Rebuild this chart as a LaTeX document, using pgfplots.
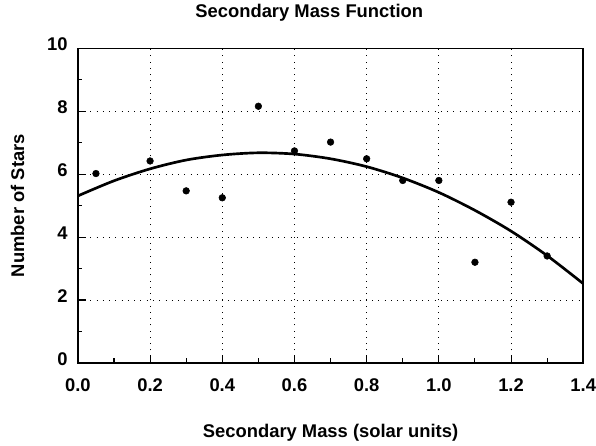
\documentclass[border=0pt]{standalone}
\usepackage{pgfplots}
\pgfplotsset{compat=1.18}
\usepackage{fontspec}
\setmainfont{Liberation Sans}

\begin{document}
\begin{tikzpicture}
\begin{axis}[
    scale only axis,
    width=379.5pt, height=236.2pt,
    xmin=0, xmax=1.4,
    ymin=0, ymax=10,
    xtick={0,0.2,...,1.4},
    ytick={0,2,...,10},
    minor x tick num=1,
    minor y tick num=1,
    xtick pos=bottom, ytick pos=left,
    tick align=inside,
    major tick length=5.8pt,
    minor tick length=3.4pt,
    axis line style={line width=1.2pt},
    every tick/.style={black, line width=0.8pt},
    grid=major,
    major grid style={black, line width=0.6pt, dash pattern=on 0.7pt off 4pt},
    font=\fontsize{13.8}{16}\selectfont\bfseries,
    /pgf/number format/assume math mode=true,
    xticklabel style={/pgf/number format/.cd, fixed, fixed zerofill, precision=1, /tikz/.cd,
        anchor=north, inner sep=0pt, yshift=-11.6pt},
    yticklabel style={anchor=east, inner sep=0pt, xshift=-7.5pt, yshift=3pt},
    title={Secondary Mass Function},
    title style={at={(axis description cs:0.5,1)}, anchor=base, yshift=17pt, xshift=-16pt},
    xlabel={Secondary Mass (solar units)},
    xlabel style={at={(axis description cs:0.5,0)}, anchor=base, yshift=-56pt},
    ylabel={Number of Stars},
    ylabel style={at={(axis description cs:0,0.5)}, anchor=center, rotate=0, yshift=45.4pt},
]
% fitted curve
\addplot[black, line width=2pt, smooth] coordinates {
(0.0,5.31) (0.1,5.79) (0.2,6.17) (0.3,6.45) (0.4,6.61) (0.5,6.68) (0.6,6.64)
(0.7,6.49) (0.8,6.24) (0.9,5.88) (1.0,5.42) (1.1,4.85) (1.2,4.19) (1.3,3.41) (1.4,2.52)
};
% observed counts
\addplot[only marks, mark=*, mark size=2.5pt, black] coordinates {
(0.05,6.02) (0.2,6.42) (0.3,5.47) (0.4,5.25) (0.5,8.16) (0.6,6.74) (0.7,7.02)
(0.8,6.49) (0.9,5.80) (1.0,5.80) (1.1,3.20) (1.2,5.11) (1.3,3.40)
};
\end{axis}
\path (current axis.south west) ++(-58.5pt,-61.9pt) coordinate (bbl);
\path (current axis.north east) ++(9pt,35.7pt) coordinate (btr);
\path (bbl) rectangle (btr);
\end{tikzpicture}
\end{document}
